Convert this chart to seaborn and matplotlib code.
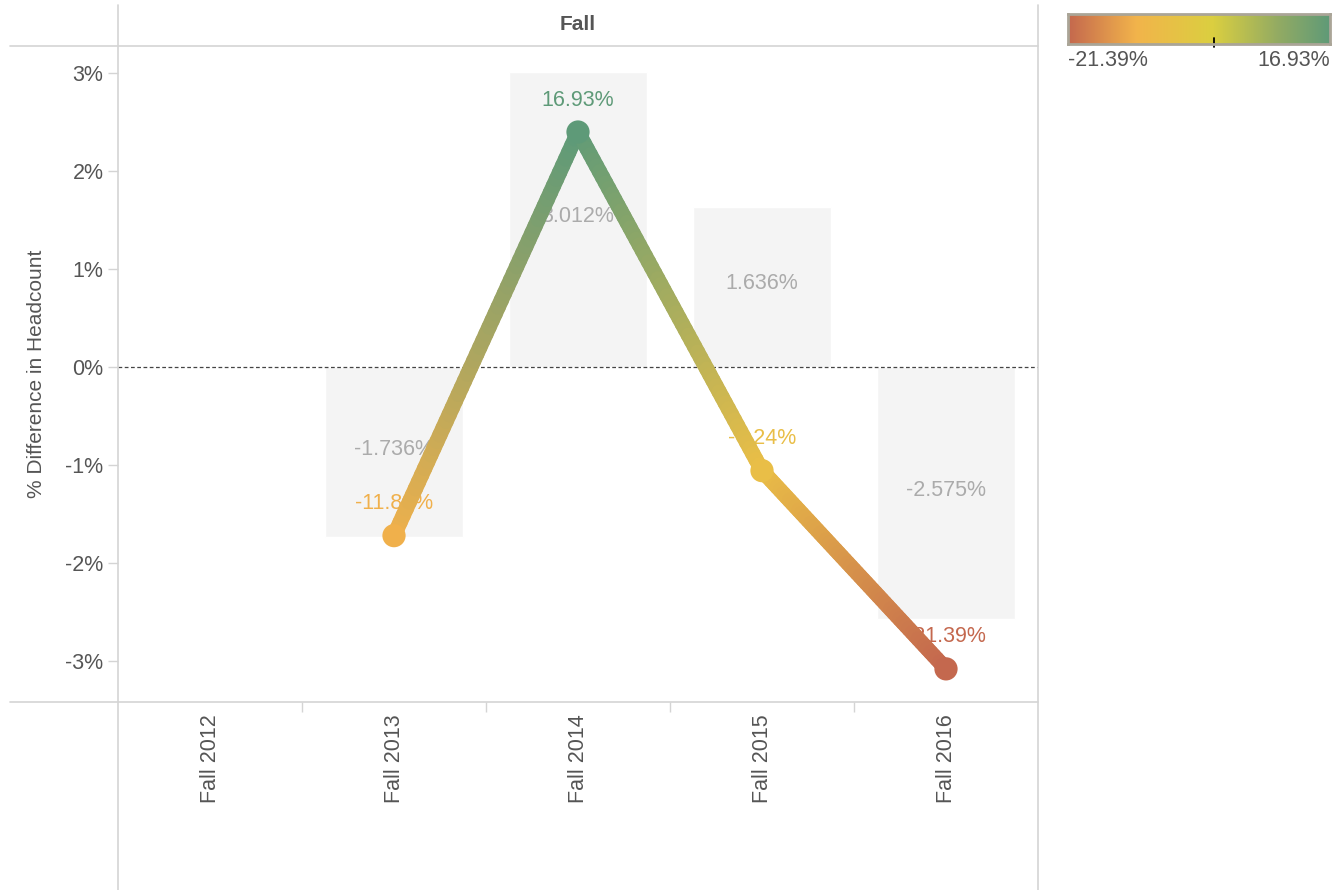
import numpy as np
import pandas as pd
import matplotlib
matplotlib.use("Agg")
import matplotlib.pyplot as plt
import seaborn as sns
from matplotlib.colors import LinearSegmentedColormap, Normalize
from matplotlib.collections import LineCollection
from matplotlib.lines import Line2D

# ---------------- data ----------------
categories = ["Fall 2012", "Fall 2013", "Fall 2014", "Fall 2015", "Fall 2016"]
bar_terms = ["Fall 2013", "Fall 2014", "Fall 2015", "Fall 2016"]
bar_values = [-1.736, 3.012, 1.636, -2.575]          # % difference in headcount
line_terms = ["Fall 2013", "Fall 2014", "Fall 2015", "Fall 2016"]
line_values = [-11.88, 16.93, -7.24, -21.39]          # colour measure / line (secondary axis)
y_ticks = [-3, -2, -1, 0, 1, 2, 3]
legend_min, legend_max = -21.39, 16.93

W, H = 1332, 890
sns.set_theme(style="white")
plt.rcParams["font.family"] = ["Liberation Sans", "DejaVu Sans"]
TXT = "#555555"
GRID = "#d4d4d4"

cmap = LinearSegmentedColormap.from_list(
    "rgg",
    [(0.0, "#c4684e"), (0.26, "#f2b44b"), (0.55, "#dbcf40"), (0.80, "#93ab63"), (1.0, "#5e9a78")],
)
norm = Normalize(legend_min, legend_max)

fig = plt.figure(figsize=(W / 100, H / 100), dpi=100)

def fx(px):
    return px / W

def fy(py):
    return 1 - py / H

# main axes
L, R, T, B = 118, 1038, 46, 702
ax = fig.add_axes([fx(L), fy(B), fx(R - L), (B - T) / H])

df_bar = pd.DataFrame({"term": bar_terms, "value": bar_values})
sns.barplot(data=df_bar, x="term", y="value", order=categories, color="#f4f4f4",
            saturation=1, width=0.745, errorbar=None, ax=ax, zorder=1)

ylo, yhi = -3.418, 3.276
ax.set_ylim(ylo, yhi)
ax.set_xlim(-0.5, len(categories) - 0.5)
ax.set_yticks(y_ticks)
ax.set_yticklabels([f"{t}%" for t in y_ticks])
ax.set_xlabel("")
ax.set_ylabel("% Difference in Headcount", fontsize=15, color=TXT, labelpad=14)
for s in ax.spines.values():
    s.set_visible(False)
ax.tick_params(axis="y", length=7.5, width=1, color=GRID, labelsize=15.5, labelcolor=TXT, pad=3, left=True)
ax.set_xticks(range(len(categories)))
ax.set_xticklabels(categories, rotation=90, fontsize=15.5, color=TXT)
ax.tick_params(axis="x", which="major", length=0, pad=9, bottom=True)
ax.set_xticks([i + 0.5 for i in range(len(categories) - 1)], minor=True)
ax.tick_params(axis="x", which="minor", length=7, width=1, color=GRID, bottom=True)

# zero line
ax.axhline(0, color="#444444", lw=0.9, ls=(0, (3, 2)), zorder=2)

# bar labels
for term, v in zip(bar_terms, bar_values):
    ax.text(categories.index(term), v / 2 + 0.03, f"{v:.3f}%", ha="center", va="center",
            fontsize=15.5, color="#ababab", zorder=3)

# secondary axis for the line
a, b = 0.14296, -0.022
ax2 = ax.twinx()
ax2.set_ylim((ylo - b) / a, (yhi - b) / a)
ax2.axis("off")

xs = np.array([categories.index(t) for t in line_terms], dtype=float)
ys = np.array(line_values, dtype=float)
pt_cols = [np.array(cmap(norm(v))) for v in ys]

# line labels (under the line, on main axes)
for x, v, c in zip(xs, ys, pt_cols):
    yp = v * a + b
    ax.annotate(f"{v:.2f}%", (x, yp), xytext=(0, 23), textcoords="offset points",
                ha="center", va="center", fontsize=15.5, color=c, zorder=3)

# gradient line: colours blended between the end-point colours
segs, cols = [], []
n = 60
for i in range(len(xs) - 1):
    t = np.linspace(0, 1, n + 1)
    px = xs[i] + (xs[i + 1] - xs[i]) * t
    py = ys[i] + (ys[i + 1] - ys[i]) * t
    for j in range(n):
        segs.append([(px[j], py[j]), (px[j + 1], py[j + 1])])
        f = (t[j] + t[j + 1]) / 2
        cols.append(tuple(pt_cols[i] * (1 - f) + pt_cols[i + 1] * f))
lc = LineCollection(segs, colors=cols, linewidths=11, capstyle="round", joinstyle="round", zorder=4)
ax2.add_collection(lc)

sns.scatterplot(x=xs, y=ys, hue=ys, palette=cmap, hue_norm=norm, s=280, linewidth=0,
                legend=False, ax=ax2, zorder=5)
ax2.set_xlim(-0.5, len(categories) - 0.5)
ax2.set_ylim((ylo - b) / a, (yhi - b) / a)
ax2.axis("off")

# frame lines (Tableau-style panes)
def hline(y, x0, x1):
    fig.add_artist(Line2D([fx(x0), fx(x1)], [fy(y), fy(y)], color=GRID, lw=1.2))

def vline(x, y0, y1):
    fig.add_artist(Line2D([fx(x), fx(x)], [fy(y0), fy(y1)], color=GRID, lw=1.2))

hline(46, 10, 1038)
hline(702, 10, 1038)
vline(118, 5, 890)
vline(1038, 5, 890)

# header
fig.text(fx(578), fy(25), "Fall", ha="center", va="center", fontsize=15, fontweight="bold", color=TXT)

# colour legend
cax = fig.add_axes([fx(1068), fy(44), fx(262), 30 / H])
grad = np.linspace(0, 1, 256).reshape(1, -1)
cax.imshow(grad, aspect="auto", cmap=cmap, extent=[0, 1, 0, 1])
cax.set_xlim(0, 1)
cax.set_ylim(0, 1)
cax.set_xticks([])
cax.set_yticks([])
for s in cax.spines.values():
    s.set_color("#aaa597")
    s.set_linewidth(2)
zf = norm(0)
cax.plot([zf, zf], [-0.1, 0.2], color="black", lw=1.3, clip_on=False)
fig.text(fx(1068), fy(61), f"{legend_min:.2f}%", ha="left", va="center", fontsize=15.5, color=TXT)
fig.text(fx(1330), fy(61), f"{legend_max:.2f}%", ha="right", va="center", fontsize=15.5, color=TXT)

fig.savefig("out.png", dpi=100, facecolor="white")
